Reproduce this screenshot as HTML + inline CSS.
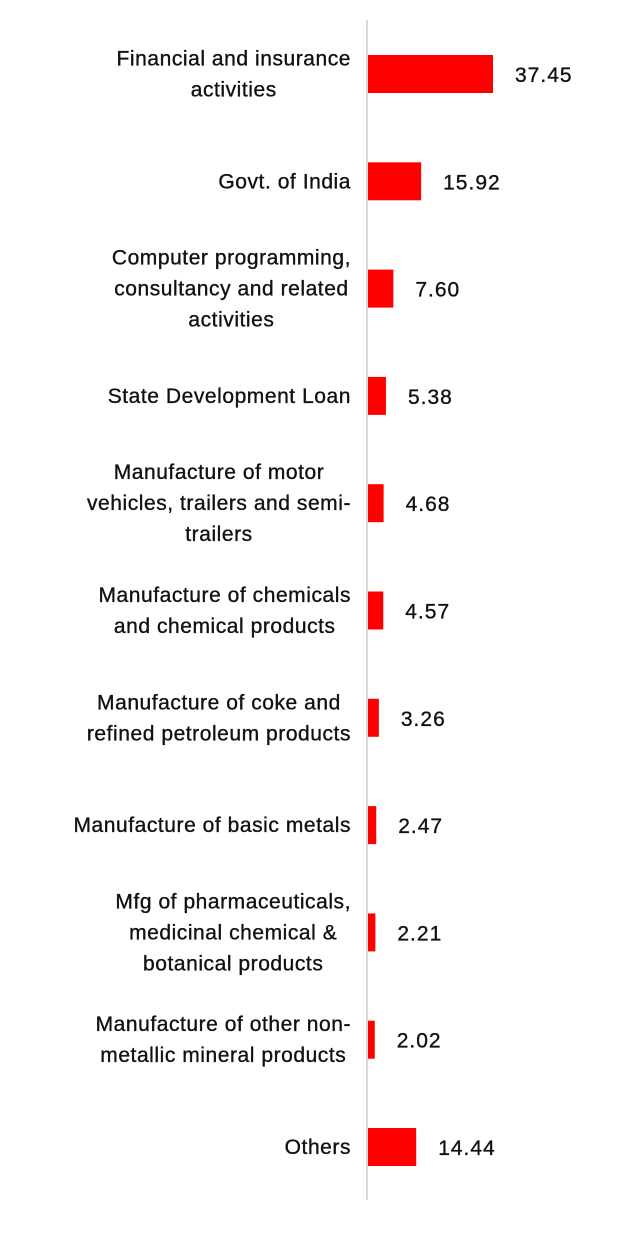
<!DOCTYPE html>
<html><head><meta charset="utf-8"><style>
html,body{margin:0;padding:0;background:#fff;}
body{width:638px;height:1230px;overflow:hidden;}
svg text{font-family:"Liberation Sans",Arial,sans-serif;fill:#111;stroke:#111;stroke-width:0.35px;}
</style></head><body>
<svg id="chart" width="638" height="1230" xmlns="http://www.w3.org/2000/svg">
<line x1="367" y1="20" x2="367" y2="1200" stroke="#d9d9d9" stroke-width="2"/>
</svg>
<script>
const categories = [
  ["Financial and insurance","activities"],
  ["Govt. of India"],
  ["Computer programming,","consultancy and related","activities"],
  ["State Development Loan"],
  ["Manufacture of motor","vehicles, trailers and semi-","trailers"],
  ["Manufacture of chemicals","and chemical products"],
  ["Manufacture of coke and","refined petroleum products"],
  ["Manufacture of basic metals"],
  ["Mfg of pharmaceuticals,","medicinal chemical &","botanical products"],
  ["Manufacture of other non-","metallic mineral products"],
  ["Others"]
];
const values = [37.45, 15.92, 7.60, 5.38, 4.68, 4.57, 3.26, 2.47, 2.21, 2.02, 14.44];
const valueLabels = ["37.45","15.92","7.60","5.38","4.68","4.57","3.26","2.47","2.21","2.02","14.44"];

const svg = document.getElementById('chart');
const NS = "http://www.w3.org/2000/svg";
const x0 = 368, pxPerUnit = 125 / 37.45;
const xScale = v => x0 + v * pxPerUnit;
const yTop = 74, step = (1147 - 74) / (categories.length - 1);
const yScale = i => yTop + i * step;
const barH = 38, lineH = 31, labelRight = 351;
const FS = 21, LS = 0.55;

function measure(t){
  const el = document.createElementNS(NS,'text');
  el.setAttribute('font-size', FS);
  el.setAttribute('letter-spacing', LS);
  el.textContent = t;
  svg.appendChild(el);
  const w = el.getComputedTextLength();
  svg.removeChild(el);
  return w;
}

categories.forEach((lines, i) => {
  const cy = yScale(i);
  const bar = document.createElementNS(NS,'rect');
  
  
  bar.setAttribute('x', x0);
  bar.setAttribute('y', cy - barH/2);
  bar.setAttribute('width', xScale(values[i]) - x0);
  bar.setAttribute('height', barH);
  bar.setAttribute('fill', '#ff0000');
  svg.appendChild(bar);

  const vl = document.createElementNS(NS,'text');
  
  
  vl.setAttribute('x', xScale(values[i]) + 22);
  vl.setAttribute('y', cy + 8);
  vl.setAttribute('font-size', '21');
  vl.setAttribute('letter-spacing', '1');
  vl.textContent = valueLabels[i];
  svg.appendChild(vl);

  const maxW = Math.max(...lines.map(measure));
  const center = labelRight - maxW / 2;
  const startY = cy - (lines.length - 1) * lineH / 2 + 7;
  lines.forEach((ln, j) => {
    const t = document.createElementNS(NS,'text');
    
    
    t.setAttribute('x', center);
    t.setAttribute('y', startY + j * lineH);
    t.setAttribute('font-size', FS);
    t.setAttribute('letter-spacing', LS);
    t.setAttribute('text-anchor', 'middle');
    t.textContent = ln;
    svg.appendChild(t);
  });
});
</script>
</body></html>
